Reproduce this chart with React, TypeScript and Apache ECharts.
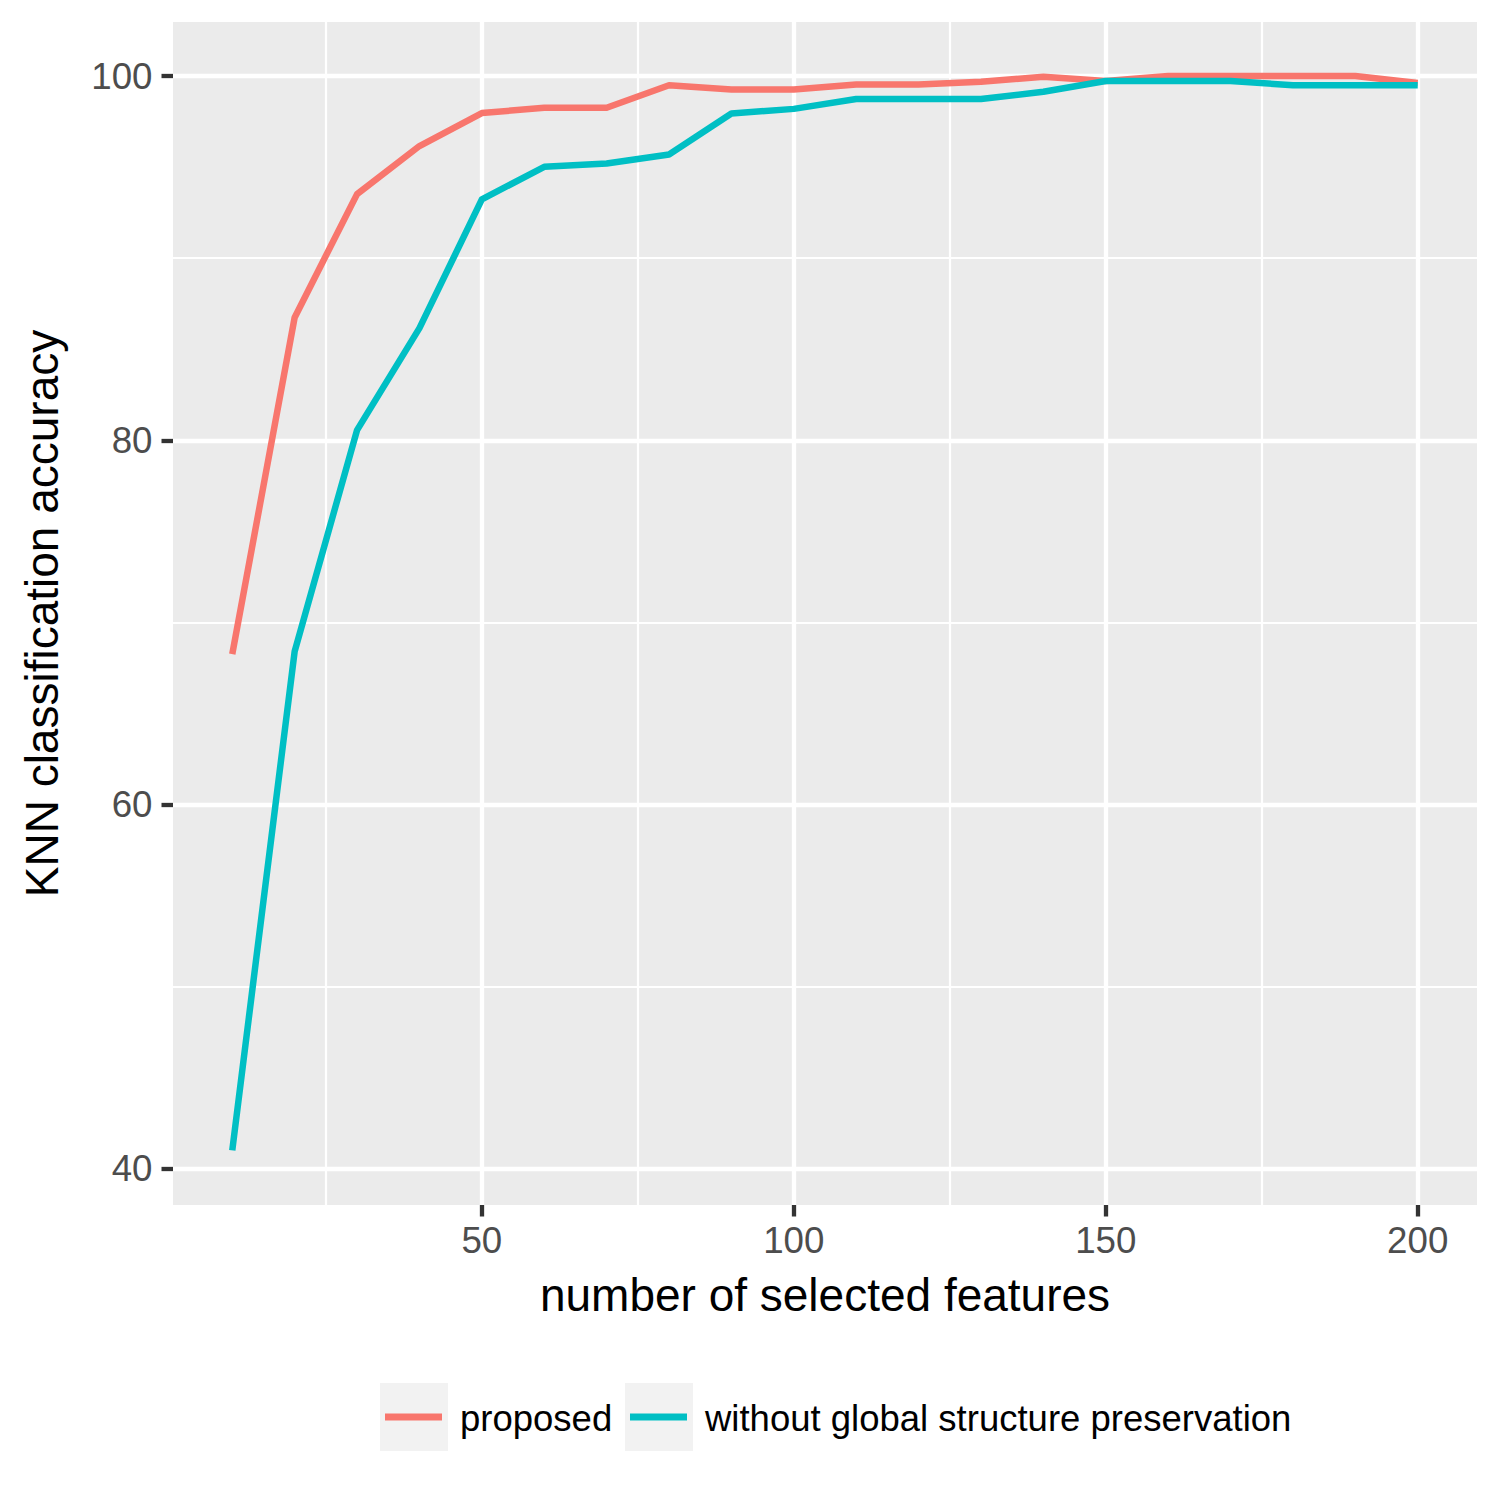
import React, { useEffect, useRef } from "react";
import * as echarts from "echarts";

const features = [10, 20, 30, 40, 50, 60, 70, 80, 90, 100, 110, 120, 130, 140, 150, 160, 170, 180, 190, 200];
const proposed = [68.26, 86.75, 93.52, 96.16, 97.97, 98.26, 98.26, 99.5, 99.27, 99.27, 99.54, 99.54, 99.69, 99.96, 99.73, 100, 100, 100, 100, 99.62];
const withoutGlobal = [41.02, 68.42, 80.56, 86.16, 93.23, 95.02, 95.2, 95.7, 97.95, 98.2, 98.74, 98.74, 98.74, 99.14, 99.73, 99.73, 99.73, 99.5, 99.5, 99.5];
const seriesNames = ["proposed", "without global structure preservation"];
const seriesColors = ["#F8766D", "#00BFC4"];
const xTicks = [50, 100, 150, 200];
const xMinorTicks = [25, 75, 125, 175];
const yTicks = [40, 60, 80, 100];
const yMinorTicks = [50, 70, 90];
const xTitle = "number of selected features";
const yTitle = "KNN classification accuracy";

const FONT = "'Liberation Sans', Arial, Helvetica, sans-serif";

export default function App() {
  const ref = useRef<HTMLDivElement>(null);
  useEffect(() => {
    const chart = echarts.init(ref.current as HTMLDivElement, undefined, {
      renderer: "svg",
      width: 1500,
      height: 1500,
    });
    const pair = (ys: number[]) => features.map((x, i) => [x, ys[i]]);
    const gl = (axis: string, v: number, w: number) => ({
      [axis]: v,
      lineStyle: { color: "#FFFFFF", width: w, type: "solid" },
    });
    const gridLines = [
      ...xMinorTicks.map((v) => gl("xAxis", v, 2.2)),
      ...yMinorTicks.map((v) => gl("yAxis", v, 2.2)),
      ...xTicks.map((v) => gl("xAxis", v, 4.3)),
      ...yTicks.map((v) => gl("yAxis", v, 4.3)),
    ];
    const keyX = [380, 625];
    const legendEls: any[] = [];
    seriesNames.forEach((name, i) => {
      legendEls.push({
        type: "rect",
        shape: { x: keyX[i], y: 1383, width: 68, height: 68 },
        style: { fill: "#F2F2F2" },
      });
      legendEls.push({
        type: "line",
        shape: { x1: keyX[i] + 5, y1: 1417, x2: keyX[i] + 62, y2: 1417 },
        style: { stroke: seriesColors[i], lineWidth: 7 },
      });
      legendEls.push({
        type: "text",
        x: keyX[i] + 80,
        y: 1418.5,
        style: {
          text: name,
          fontSize: 36.5,
          fontFamily: FONT,
          fill: "#000000",
          verticalAlign: "middle",
          align: "left",
        },
      });
    });

    chart.setOption({
      animation: false,
      backgroundColor: "#FFFFFF",
      grid: {
        left: 173,
        top: 22,
        width: 1304,
        height: 1183,
        show: true,
        backgroundColor: "#EBEBEB",
        borderWidth: 0,
        containLabel: false,
      },
      xAxis: {
        type: "value",
        min: 0.5,
        max: 209.5,
        name: xTitle,
        nameLocation: "middle",
        nameGap: 67,
        nameTextStyle: { fontSize: 46, color: "#000000", fontFamily: FONT },
        axisLine: { show: false },
        splitLine: { show: false },
        axisTick: {
          show: true,
          customValues: xTicks,
          length: 11.5,
          lineStyle: { color: "#333333", width: 4.3 },
        },
        axisLabel: {
          customValues: xTicks,
          margin: 17,
          fontSize: 36.7,
          color: "#4D4D4D",
          fontFamily: FONT,
        },
      },
      yAxis: {
        type: "value",
        min: 38.02,
        max: 102.97,
        name: yTitle,
        nameLocation: "middle",
        nameRotate: 90,
        nameGap: 108,
        nameTextStyle: { fontSize: 46, color: "#000000", fontFamily: FONT },
        axisLine: { show: false },
        splitLine: { show: false },
        axisTick: {
          show: true,
          customValues: yTicks,
          length: 11.5,
          lineStyle: { color: "#333333", width: 4.3 },
        },
        axisLabel: {
          customValues: yTicks,
          margin: 20.5,
          fontSize: 36.7,
          color: "#4D4D4D",
          fontFamily: FONT,
        },
      },
      series: [
        {
          type: "line",
          name: "grid",
          data: [],
          silent: true,
          z: 1,
          markLine: {
            silent: true,
            z: 1,
            symbol: ["none", "none"],
            label: { show: false },
            emphasis: { disabled: true },
            animation: false,
            data: gridLines,
          },
        },
        ...[proposed, withoutGlobal].map((ys, i) => ({
          type: "line",
          name: seriesNames[i],
          data: pair(ys),
          showSymbol: false,
          symbol: "none",
          z: 3 + i,
          lineStyle: { color: seriesColors[i], width: 6.5, join: "round", cap: "butt" },
          itemStyle: { color: seriesColors[i] },
          emphasis: { disabled: true },
        })),
      ],
      graphic: legendEls,
    });
    return () => chart.dispose();
  }, []);
  return (
    <div
      ref={ref}
      style={{ position: "absolute", left: 0, top: 0, width: 1500, height: 1500 }}
    />
  );
}
